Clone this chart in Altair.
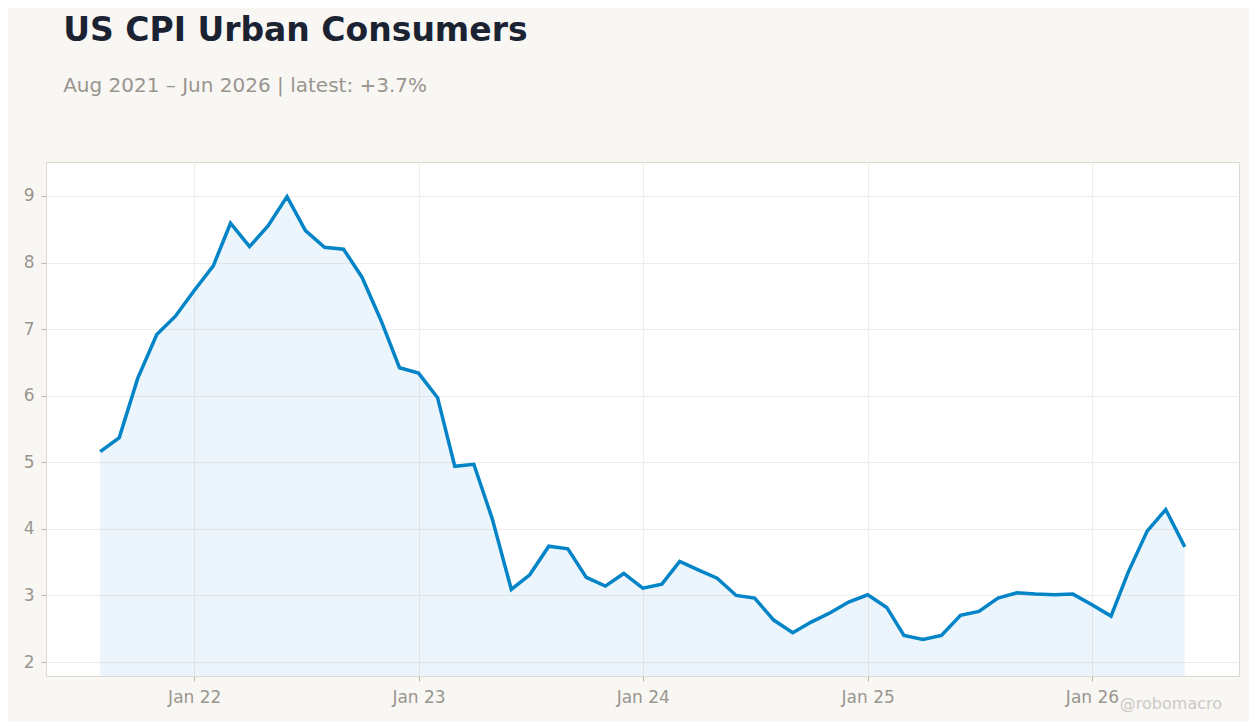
import altair as alt
import pandas as pd

# CPI YoY %, monthly, Aug 2021 .. Jun 2026
start_month = "2021-08-01"
cpi = [
    5.16, 5.37, 6.26, 6.92, 7.19,
    7.58, 7.95, 8.59, 8.24, 8.55, 8.99, 8.48, 8.23, 8.20, 7.78, 7.13, 6.42,
    6.34, 5.97, 4.94, 4.97, 4.15, 3.09, 3.31, 3.74, 3.70, 3.27, 3.14, 3.33,
    3.11, 3.17, 3.51, 3.38, 3.26, 3.00, 2.96, 2.63, 2.44, 2.60, 2.74, 2.90,
    3.01, 2.82, 2.40, 2.34, 2.40, 2.70, 2.76, 2.96, 3.04, 3.02, 3.01, 3.02,
    2.86, 2.69, 3.35, 3.97, 4.29, 3.73,
]
tick_years = [2022, 2023, 2024, 2025, 2026]
y_ticks = [2, 3, 4, 5, 6, 7, 8, 9]

dates = pd.date_range(start_month, periods=len(cpi), freq="MS")
df = pd.DataFrame({"date": dates.strftime("%Y-%m-%d"), "cpi": cpi})


def ms(ts):
    return int(pd.Timestamp(ts).value // 10**6)


# 5% padding either side of the data range
pad = (dates[-1] - dates[0]) * 0.05
x_domain = [ms(dates[0] - pad), ms(dates[-1] + pad)]
x_ticks = [ms(f"{y}-01-01") for y in tick_years]

BG = "#f8f7f4"
LINE = "#0284c7"
GREY = "#9a958f"

x = alt.X(
    "date:T",
    title=None,
    scale=alt.Scale(type="utc", domain=x_domain),
    axis=alt.Axis(
        values=x_ticks,
        labelExpr="utcFormat(datum.value, '%b %y')",
        labelFontSize=17,
        labelPadding=8,
    ),
)
y = alt.Y(
    "cpi:Q",
    title=None,
    scale=alt.Scale(domain=[1.79, 9.51], nice=False, zero=False),
    axis=alt.Axis(values=y_ticks, labelFontSize=17, labelPadding=7),
)

base = alt.Chart(df)
area = base.mark_area(color=LINE, opacity=0.08, clip=True).encode(x=x, y=y)
line = base.mark_line(color=LINE, strokeWidth=3.5, clip=True).encode(x=x, y=y)

mark_df = pd.DataFrame({"t": ["@robomacro"]})
watermark = (
    alt.Chart(mark_df)
    .mark_text(align="right", baseline="alphabetic", fontSize=16, color="#cdc9c3",
               font="DejaVu Sans")
    .encode(text="t:N", x=alt.value(1176), y=alt.value(547))
)

chart = (
    alt.layer(area, line, watermark)
    .properties(
        width=1193,
        height=514,
        background=BG,
        padding={"left": 15, "top": 7, "right": 10, "bottom": 10},
        title=alt.Title(
            "US CPI Urban Consumers",
            subtitle="Aug 2021 \u2013 Jun 2026 | latest: +3.7%",
            anchor="start",
            dx=40,
            offset=66,
            font="DejaVu Sans",
            fontSize=33,
            fontWeight="bold",
            color="#1b2333",
            subtitleFont="DejaVu Sans",
            subtitleFontSize=20,
            subtitleColor=GREY,
            subtitlePadding=28,
        ),
    )
    .configure_view(fill="white", stroke="#ddd8d0", strokeWidth=1)
    .configure_axis(
        labelFont="DejaVu Sans",
        labelColor=GREY,
        domain=False,
        tickColor="#bdb8b1",
        tickSize=5,
        gridColor="#efedea",
        gridWidth=1,
    )
)

chart.save("out.html", embed_options={"renderer": "svg", "actions": False})
